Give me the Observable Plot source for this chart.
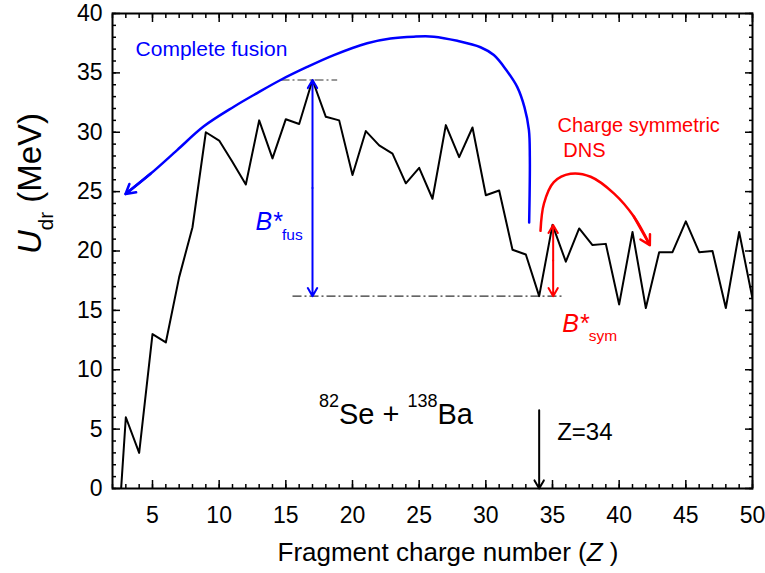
<!DOCTYPE html>
<html>
<head>
<meta charset="utf-8">
<script src="https://cdn.jsdelivr.net/npm/d3@7"></script>
<script src="https://cdn.jsdelivr.net/npm/@observablehq/plot@0.6"></script>
<style>
  body { margin: 0; background: #fff; }
</style>
</head>
<body>
<div id="chart"></div>
<script>
const FONT = '"Liberation Sans", Arial, Helvetica, sans-serif';
const BLUE = "#0000ff";
const RED = "#ff0000";

// Driving potential U_dr (MeV) against fragment charge number Z, 82Se + 138Ba
const charge = d3.range(2, 51);
const potential = [
  -11.0, 6.0, 3.0, 13.0, 12.3, 17.8, 22.0, 30.0, 29.3, 27.5,
  25.6, 31.0, 27.8, 31.1, 30.7, 34.4, 31.3, 31.0, 26.4, 30.1,
  28.9, 28.2, 25.7, 27.0, 24.4, 30.6, 27.9, 30.4, 24.7, 25.1,
  20.1, 19.7, 16.2, 22.2, 19.1, 21.9, 20.5, 20.6, 15.5, 21.6,
  15.2, 19.9, 19.9, 22.5, 19.9, 20.0, 15.2, 21.6, 16.0
];

// Guide curve toward complete fusion (drawn from the arrow tip outward)
const fusionZ = [2.98, 4.85, 6.85, 8.85, 11.1, 12.85, 14.6, 16.6, 18.6, 21.1, 22.85,
  24.6, 26.1, 27.86, 29.6, 30.6, 31.56, 32.36, 32.9, 33.23, 33.3, 33.25];
const fusionU = [24.8, 26.5, 28.5, 30.5, 32.15, 33.3, 34.4, 35.5, 36.5, 37.5, 37.9,
  38.05, 38.05, 37.7, 37.16, 36.5, 35.2, 33.8, 32.1, 30.2, 27.9, 22.4];

// Guide curve toward the charge-symmetric DNS
const dnsZ = [34.1, 34.36, 35.1, 36.35, 37.86, 39.6, 41.1, 42.3];
const dnsU = [21.7, 24.0, 25.8, 26.5, 26.25, 24.85, 22.9, 20.5];

// Axis ticks
const xTicks = [5, 10, 15, 20, 25, 30, 35, 40, 45, 50];
const xMinor = d3.range(2, 51);
const yTicks = [0, 5, 10, 15, 20, 25, 30, 35, 40];
const yMinor = d3.range(0, 41);

const curve = charge.map((z, i) => ({z, u: potential[i]}));
const fusion = fusionZ.map((z, i) => ({z, u: fusionU[i]}));
const dns = dnsZ.map((z, i) => ({z, u: dnsU[i]}));

const uAt = (z) => potential[charge.indexOf(z)];
const peak = uAt(17);      // B*fus measured from the highest ridge point
const floor = uAt(34);     // entrance-channel minimum at Z = 34
const symTop = uAt(35);

const levels = [
  {z1: 14.6, z2: 18.85, u: peak},
  {z1: 15.5, z2: 35.7, u: floor}
];

const tickAxes = [
  // inward ticks on all four sides
  Plot.axisX({anchor: "bottom", ticks: xMinor, tickSize: 4, dy: -4, tickFormat: () => "", label: null, strokeWidth: 1.5}),
  Plot.axisX({anchor: "bottom", ticks: xTicks, tickSize: 8, dy: -8, tickFormat: () => "", label: null, strokeWidth: 1.5}),
  Plot.axisX({anchor: "top", ticks: xMinor, tickSize: 4, dy: 4, tickFormat: () => "", label: null, strokeWidth: 1.5}),
  Plot.axisX({anchor: "top", ticks: xTicks, tickSize: 8, dy: 8, tickFormat: () => "", label: null, strokeWidth: 1.5}),
  Plot.axisY({anchor: "left", ticks: yMinor, tickSize: 4, dx: 4, tickFormat: () => "", label: null, strokeWidth: 1.5}),
  Plot.axisY({anchor: "left", ticks: yTicks, tickSize: 8, dx: 8, tickFormat: () => "", label: null, strokeWidth: 1.5}),
  Plot.axisY({anchor: "right", ticks: yMinor, tickSize: 4, dx: -4, tickFormat: () => "", label: null, strokeWidth: 1.5}),
  Plot.axisY({anchor: "right", ticks: yTicks, tickSize: 8, dx: -8, tickFormat: () => "", label: null, strokeWidth: 1.5}),
  // tick labels
  Plot.axisX({anchor: "bottom", ticks: xTicks, tickSize: 0, tickPadding: 18, fontSize: 23, label: null}),
  Plot.axisY({anchor: "left", ticks: yTicks, tickSize: 0, tickPadding: 10, fontSize: 23, label: null})
];

const label = (text, opts) => Plot.text([text], {text: (d) => d, textAnchor: "start", lineAnchor: "bottom", ...opts});

const chart = Plot.plot({
  width: 765,
  height: 573,
  marginTop: 13,
  marginRight: 13,
  marginBottom: 85,
  marginLeft: 112,
  style: {fontFamily: FONT, fontSize: "23px", background: "#fff", color: "#000"},
  x: {domain: [2, 50], label: null},
  y: {domain: [0, 40], label: null},
  marks: [
    ...tickAxes,
    Plot.frame({strokeWidth: 2}),

    // dash-dot reference levels
    Plot.link(levels, {x1: "z1", x2: "z2", y1: "u", y2: "u", stroke: "#333", strokeWidth: 1.2, strokeDasharray: "9,3,2,3"}),

    // driving potential
    Plot.line(curve, {x: "z", y: "u", stroke: "black", strokeWidth: 2, clip: true}),

    // complete-fusion path
    Plot.line(fusion, {x: "z", y: "u", curve: "catmull-rom", stroke: BLUE, strokeWidth: 2.5}),
    Plot.arrow([fusion[0]], {x1: fusion[1].z, y1: fusion[1].u, x2: "z", y2: "u", stroke: BLUE, strokeWidth: 2.5, headLength: 7}),

    // B*fus double arrow
    Plot.arrow([peak, floor], {x1: 17, x2: 17, y1: (peak + floor) / 2, y2: (d) => d, stroke: BLUE, strokeWidth: 2, headLength: 7}),

    // charge-symmetric DNS path
    Plot.line(dns, {x: "z", y: "u", curve: "catmull-rom", stroke: RED, strokeWidth: 2.5}),
    Plot.arrow([dns[dns.length - 1]], {x1: dns[dns.length - 2].z, y1: dns[dns.length - 2].u, x2: "z", y2: "u", stroke: RED, strokeWidth: 2.5, headLength: 7}),

    // B*sym double arrow
    Plot.arrow([symTop, floor], {x1: 35.05, x2: 35.05, y1: (symTop + floor) / 2, y2: (d) => d, stroke: RED, strokeWidth: 2, headLength: 7}),

    // Z = 34 marker
    Plot.arrow([34], {x1: (d) => d, x2: (d) => d, y1: 6.6, y2: 0, stroke: "black", strokeWidth: 2, headLength: 7}),

    // annotations
    label("Complete fusion", {x: 3.73, y: 36.4, fill: BLUE, fontSize: 21}),
    label("Charge symmetric", {x: 35.38, y: 30.04, fill: RED, fontSize: 20}),
    label("DNS", {x: 35.81, y: 27.93, fill: RED, fontSize: 20}),
    label("{i:B*}{sub:fus}", {x: 12.73, y: 21.75, fill: BLUE, fontSize: 25}),
    label("{i:B*}{sub:sym}", {x: 35.73, y: 13.18, fill: RED, fontSize: 25}),
    label("{sup:82}Se + {sup:138}Ba", {x: 17.48, y: 5.45, fill: "black", fontSize: 29}),
    label("Z=34", {x: 35.35, y: 4.05, fill: "black", fontSize: 24}),

    // axis titles
    label("Fragment charge number ({i:Z} )", {frameAnchor: "bottom-left", dx: 165, dy: 72, fill: "black", fontSize: 26}),
    label("{i:U}{sub:dr} (MeV)", {frameAnchor: "left", dx: -72, dy: 3, rotate: -90, fill: "black", fontSize: 33})
  ]
});

// Turn {i:…}, {sub:…}, {sup:…} markup in text marks into styled tspans
function richText(svg) {
  d3.select(svg).selectAll("text").each(function () {
    const s = this.textContent;
    if (!s.includes("{")) return;
    const base = parseFloat(getComputedStyle(this).fontSize);
    const el = d3.select(this).text(null);
    const re = /\{(i|sub|sup):([^}]*)\}|([^{]+)/g;
    let m, shift = 0;
    while ((m = re.exec(s))) {
      const t = el.append("tspan");
      let target = 0;
      if (m[3] !== undefined) {
        t.text(m[3]);
      } else {
        t.text(m[2]);
        if (m[1] === "i") t.attr("font-style", "italic");
        else {
          t.attr("font-size", `${(base * 0.62).toFixed(1)}px`);
          target = m[1] === "sub" ? base * 0.38 : -base * 0.58;
        }
      }
      if (target !== shift) {
        t.attr("dy", (target - shift).toFixed(1));
        shift = target;
      }
    }
  });
}

document.getElementById("chart").appendChild(chart);
richText(chart);
</script>
</body>
</html>
